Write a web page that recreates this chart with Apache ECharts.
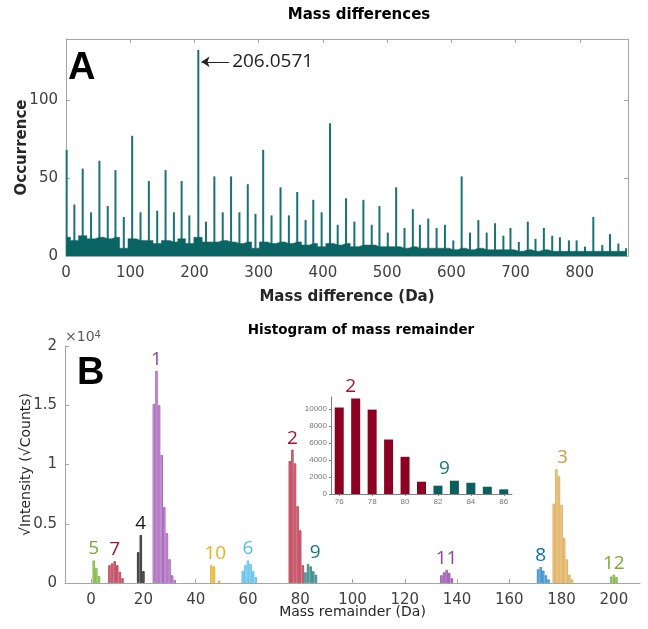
<!DOCTYPE html>
<html>
<head>
<meta charset="utf-8">
<script src="https://cdn.jsdelivr.net/npm/echarts@6/dist/echarts.min.js"></script>
<style>
  html, body { margin: 0; padding: 0; background: #fff; }
  #chart { width: 648px; height: 629px; }
</style>
</head>
<body>
<div id="chart"></div>
<script>
// panel A: peaks of the mass difference spectrum
const peakMass = [1, 13, 26, 39, 52, 65, 77, 90, 103, 116, 129, 142, 155, 168, 180, 192, 206, 218, 231, 244,
  257, 270, 283, 295, 307, 320, 334, 347, 360, 373, 385, 398, 411, 423, 436, 449, 463, 476, 488, 501,
  514, 527, 540, 551, 564, 577, 590, 603, 616, 629, 642, 655, 668, 681, 692, 705, 719, 731, 744, 757,
  769, 783, 795, 808, 821, 835, 847, 860, 872];
const peakCount = [68, 33, 56, 28, 61, 32, 55, 25, 77, 28, 48, 29, 55, 28, 48, 26, 132, 22, 51, 28,
  51, 28, 46, 27, 68, 26, 44, 26, 41, 23, 36, 28, 85, 20, 37, 22, 36, 20, 32, 15,
  44, 18, 30, 20, 24, 18, 20, 10, 51, 15, 23, 15, 21, 13, 18, 9, 22, 11, 18, 13,
  12, 10, 10, 6, 25, 7, 14, 8, 5];
// noise floor between the peaks
const floorCount = [12, 10, 13, 11, 12, 11, 12, 5, 11, 10, 10, 8, 10, 9, 11, 8, 12, 9, 9, 10,
  9, 8, 9, 5, 9, 8, 9, 8, 9, 7, 8, 6, 8, 7, 8, 6, 7, 7, 6, 6,
  6, 5, 6, 5, 5, 5, 5, 4, 5, 4, 5, 4, 4, 4, 4, 3, 4, 3, 4, 3,
  3, 3, 3, 3, 3, 3, 3, 3, 3];

// panel B: histogram of mass remainder, one entry per group
const remGroups = ['5', '7', '4', '1', '10', '6', '2', '9', '11', '8', '3', '12'];
const remMass = [
  [1, 2, 3],
  [7, 8, 9, 10, 11, 12],
  [18, 19, 20],
  [24, 25, 26, 27, 28, 29, 30, 31, 32],
  [46, 47, 49],
  [58, 59, 60, 61, 62, 63],
  [76, 77, 78, 79, 80, 81],
  [82, 83, 84, 85, 86],
  [134, 135, 136, 137, 138],
  [171, 172, 173, 174, 175],
  [177, 178, 179, 180, 181, 182, 183, 184],
  [199, 200, 201]
];
const remIntensity = [
  [1900, 1250, 600],
  [1500, 1650, 1850, 1500, 950, 400],
  [2600, 4050, 1000],
  [15100, 17900, 15000, 10800, 6400, 4200, 2000, 650, 250],
  [1500, 1400, 200],
  [1000, 1500, 1900, 1600, 1000, 500],
  [10300, 11250, 10100, 6480, 4450, 1500],
  [900, 1600, 1400, 1000, 700],
  [650, 900, 1100, 850, 400],
  [1150, 1350, 1050, 650, 300],
  [6700, 9600, 9000, 6600, 3800, 2000, 700, 300],
  [550, 700, 500]
];

// inset: zoom on groups 2 and 9
const insetMass = ['76', '77', '78', '79', '80', '81', '82', '83', '84', '85', '86'];
const insetGroup2 = [10200, 11260, 9960, 6430, 4390, 1450, null, null, null, null, null];
const insetGroup9 = [null, null, null, null, null, null, 980, 1570, 1330, 860, 550];

// colours per group: label, bar fill, bar edge
const groupStyle = {
  '5': ['#77ac30', '#a9d37c', '#77ac30'],
  '7': ['#a2142f', '#d9707f', '#b8364c'],
  '4': ['#1a1a1a', '#666666', '#222222'],
  '1': ['#8f3f9f', '#cfa6dc', '#9a50b0'],
  '10': ['#edb120', '#f5cd6a', '#e6a817'],
  '6': ['#4dbeee', '#9bd9f5', '#4db8e8'],
  '2': ['#a2142f', '#d9707f', '#b8364c'],
  '9': ['#15797a', '#6aabab', '#2a8080'],
  '11': ['#8f3f9f', '#c292d0', '#8f3f9f'],
  '8': ['#0072bd', '#6aaee0', '#2a86c8'],
  '3': ['#d69b3c', '#f0cf92', '#d9a44a'],
  '12': ['#77ac30', '#a9d37c', '#77ac30']
};
const labelShift = { '3': 6, '9': 7, '10': 4 };

const axisGray = '#a6a6a6';
const tickText = { color: '#404040', fontSize: 15, fontFamily: 'DejaVu Sans' };

const remData = [];
remGroups.forEach((g, gi) => {
  const ys = remIntensity[gi];
  const top = ys.indexOf(Math.max(...ys));
  const st = groupStyle[g];
  ys.forEach((y, i) => {
    const item = {
      value: [remMass[gi][i], y],
      itemStyle: { color: st[1], borderColor: st[2], borderWidth: 0.8 }
    };
    if (i === top) {
      item.label = {
        show: true, position: 'top', distance: 2,
        formatter: g, color: st[0], fontSize: 19, fontFamily: 'Open Sans',
        offset: [labelShift[g] || 0, 0]
      };
    }
    remData.push(item);
  });
});

const chart = echarts.init(document.getElementById('chart'));
chart.setOption({
  animation: false,
  title: [
    { text: 'Mass differences', left: 354, top: 3, textAlign: 'center',
      textStyle: { fontSize: 15, fontWeight: 'bold', color: '#000', fontFamily: 'DejaVu Sans' } },
    { text: 'Histogram of mass remainder', left: 356, top: 318, textAlign: 'center',
      textStyle: { fontSize: 13.5, fontWeight: 'bold', color: '#000', fontFamily: 'DejaVu Sans' } }
  ],
  grid: [
    { left: 66, top: 39, width: 562, height: 217, containLabel: false, outerBoundsMode: 'none' },
    { left: 65, top: 346, width: 575, height: 237, containLabel: false, outerBoundsMode: 'none' },
    { left: 331, top: 397, width: 181, height: 97, containLabel: false, outerBoundsMode: 'none' }
  ],
  xAxis: [
    { gridIndex: 0, type: 'value', min: 0, max: 875, interval: 100, position: 'bottom',
      name: 'Mass difference (Da)', nameLocation: 'middle', nameGap: 34, nameMoveOverlap: false,
      nameTextStyle: { fontSize: 15, fontWeight: 'bold', color: '#262626', fontFamily: 'DejaVu Sans' },
      axisLine: { show: true, onZero: false, lineStyle: { color: axisGray } },
      axisTick: { show: true, inside: true, length: 4, lineStyle: { color: axisGray } },
      axisLabel: Object.assign({ showMaxLabel: false, margin: 10 }, tickText),
      splitLine: { show: false } },
    { gridIndex: 0, type: 'value', min: 0, max: 875, interval: 100, position: 'top',
      axisLine: { show: true, onZero: false, lineStyle: { color: axisGray } },
      axisTick: { show: true, inside: true, length: 4, lineStyle: { color: axisGray } },
      axisLabel: { show: false }, splitLine: { show: false } },
    { gridIndex: 1, type: 'value', min: -10, max: 210, splitNumber: 11,
      name: 'Mass remainder (Da)', nameLocation: 'middle', nameGap: 22, nameMoveOverlap: false,
      nameTextStyle: { fontSize: 14, color: '#262626', fontFamily: 'DejaVu Sans' },
      axisLine: { show: true, onZero: false, lineStyle: { color: axisGray } },
      axisTick: { show: true, inside: true, length: 4, lineStyle: { color: axisGray } },
      axisLabel: Object.assign({ showMinLabel: false, showMaxLabel: false, margin: 10 }, tickText),
      splitLine: { show: false } },
    { gridIndex: 2, type: 'category', data: insetMass, boundaryGap: true,
      axisLine: { show: true, onZero: false, lineStyle: { color: '#808080' } },
      axisTick: { show: true, alignWithLabel: true, interval: 1, length: 2, lineStyle: { color: '#808080' } },
      axisLabel: { interval: 1, fontSize: 8, color: '#777', margin: 4 } }
  ],
  yAxis: [
    { gridIndex: 0, type: 'value', min: 0, max: 139, interval: 50,
      name: 'Occurrence', nameLocation: 'middle', nameGap: 36, nameMoveOverlap: false,
      nameTextStyle: { fontSize: 15, fontWeight: 'bold', color: '#262626', fontFamily: 'DejaVu Sans' },
      axisLine: { show: true, onZero: false, lineStyle: { color: axisGray } },
      axisTick: { show: true, inside: true, length: 4, lineStyle: { color: axisGray } },
      axisLabel: Object.assign({ showMaxLabel: false, margin: 8 }, tickText),
      splitLine: { show: false } },
    { gridIndex: 0, type: 'value', min: 0, max: 139, interval: 50, position: 'right',
      axisLine: { show: true, onZero: false, lineStyle: { color: axisGray } },
      axisTick: { show: true, inside: true, length: 4, lineStyle: { color: axisGray } },
      axisLabel: { show: false }, splitLine: { show: false } },
    { gridIndex: 1, type: 'value', min: 0, max: 20000, interval: 5000,
      name: '√Intensity (√Counts)', nameLocation: 'middle', nameGap: 32, nameMoveOverlap: false,
      nameTextStyle: { fontSize: 14, color: '#262626', fontFamily: 'DejaVu Sans' },
      axisLine: { show: true, onZero: false, lineStyle: { color: axisGray } },
      axisTick: { show: true, inside: true, length: 4, lineStyle: { color: axisGray } },
      axisLabel: Object.assign({ margin: 8, formatter: v => String(v / 10000) }, tickText),
      splitLine: { show: false } },
    { gridIndex: 2, type: 'value', min: 0, max: 11450, interval: 2000,
      axisLine: { show: true, onZero: false, lineStyle: { color: '#808080' } },
      axisTick: { show: true, length: 2, lineStyle: { color: '#808080' } },
      axisLabel: { showMaxLabel: false, fontSize: 8, color: '#777', margin: 4, formatter: v => String(v) },
      splitLine: { show: false } }
  ],
  graphic: [
    { type: 'text', left: 68, top: 50, style: { text: 'A', font: 'bold 38px "Liberation Sans"', fill: '#000' } },
    { type: 'text', left: 77, top: 355, style: { text: 'B', font: 'bold 38px "Liberation Sans"', fill: '#000' } },
    { type: 'text', left: 65, top: 330, style: {
      rich: { b: { fontSize: 14, fill: '#595959', fontFamily: 'DejaVu Sans' }, s: { fontSize: 10, fill: '#595959', fontFamily: 'DejaVu Sans', verticalAlign: 'top' } },
      text: '{b|×10}{s|4}' } }
  ],
  series: [
    { type: 'line', xAxisIndex: 0, yAxisIndex: 0, step: 'middle', symbol: 'none',
      data: peakMass.map((m, i) => [m, floorCount[i]]),
      lineStyle: { width: 0.5, color: '#0b6464' }, areaStyle: { color: '#0b6464', opacity: 1 } },
    { type: 'bar', xAxisIndex: 0, yAxisIndex: 0, barWidth: 2,
      data: peakMass.map((m, i) => [m, peakCount[i]]),
      itemStyle: { color: '#1a7373' },
      markLine: {
        silent: true, symbol: ['none', 'arrow'], symbolSize: 8,
        lineStyle: { color: '#222', width: 1, type: 'solid' },
        label: { show: true, position: 'start', formatter: '206.0571', color: '#222', fontSize: 19, fontFamily: 'Open Sans', distance: 3 },
        data: [[{ coord: [254, 124.4] }, { coord: [211, 124.4] }]]
      } },
    { type: 'bar', xAxisIndex: 2, yAxisIndex: 2, barWidth: 2.4, data: remData },
    { type: 'bar', xAxisIndex: 3, yAxisIndex: 3, barWidth: 9, barGap: '-100%', data: insetGroup2,
      itemStyle: { color: '#8c0022' },
      label: { show: true, position: 'top', distance: 3, offset: [-5, 0], color: '#a2142f', fontSize: 19, fontFamily: 'Open Sans',
        formatter: p => (p.dataIndex === 1 ? '2' : '') } },
    { type: 'bar', xAxisIndex: 3, yAxisIndex: 3, barWidth: 9, barGap: '-100%', data: insetGroup9,
      itemStyle: { color: '#0b5f5f' },
      label: { show: true, position: 'top', distance: 3, offset: [-10, 0], color: '#15797a', fontSize: 19, fontFamily: 'Open Sans',
        formatter: p => (p.dataIndex === 7 ? '9' : '') } }
  ]
});
</script>
</body>
</html>
